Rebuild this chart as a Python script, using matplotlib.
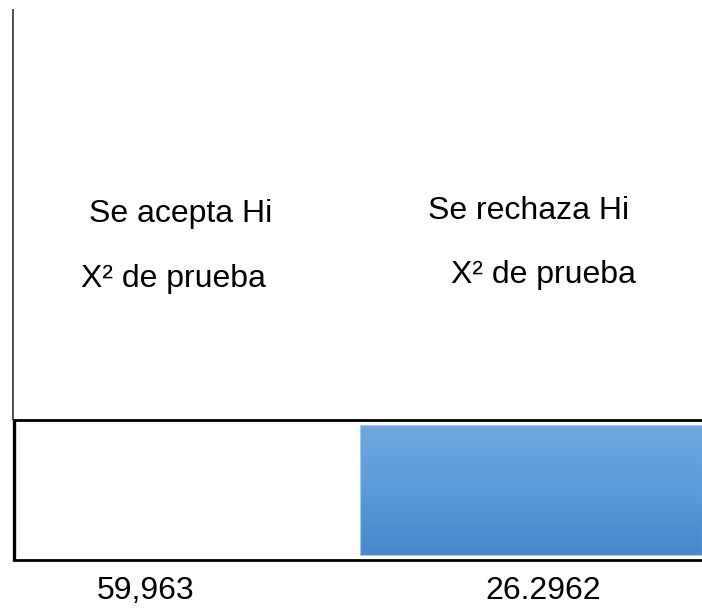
import matplotlib
matplotlib.use("Agg")
import matplotlib.pyplot as plt
import numpy as np
from matplotlib.colors import LinearSegmentedColormap

plt.rcParams["font.family"] = ["Liberation Sans", "DejaVu Sans"]

# labels / values
region_titles = ["Se acepta Hi", "Se rechaza Hi"]
stat_labels = ["X² de prueba", "X² de prueba"]
values = ["59,963", "26.2962"]

W, H = 702, 612
fig = plt.figure(figsize=(W / 100, H / 100), dpi=100)
ax = fig.add_axes([0, 0, 1, 1])
ax.set_xlim(0, W)
ax.set_ylim(H, 0)
ax.axis("off")

# left vertical axis line
ax.plot([12.5, 12.5], [9, 420], color="#333333", linewidth=1.2, solid_capstyle="butt")

# box with thick border
ax.plot([13, W], [420, 420], color="black", linewidth=2.0, solid_capstyle="butt")
ax.plot([13, W], [560, 560], color="black", linewidth=2.0, solid_capstyle="butt")
ax.plot([13.5, 13.5], [419, 561], color="black", linewidth=2.4, solid_capstyle="butt")

# blue rejection region with vertical gradient
cmap = LinearSegmentedColormap.from_list("blu", ["#70A7DD", "#5A9BDB", "#4688C9"])
grad = np.linspace(0, 1, 256).reshape(-1, 1)
ax.imshow(grad, cmap=cmap, aspect="auto", extent=(360, W, 555, 425),
          interpolation="bilinear", zorder=1)
ax.plot([360, W, W, 360, 360], [425, 425, 555, 555, 425], color="#A9C8EA",
        linewidth=0.8, zorder=2)

fs = 23
ax.text(181, 214, region_titles[0], fontsize=fs, ha="center", va="center")
ax.text(529, 211, region_titles[1], fontsize=fs, ha="center", va="center")
ax.text(173, 279, stat_labels[0], fontsize=fs, ha="center", va="center")
ax.text(543, 275, stat_labels[1], fontsize=fs, ha="center", va="center")
ax.text(146, 591, values[0], fontsize=fs, ha="center", va="center")
ax.text(543, 591, values[1], fontsize=fs, ha="center", va="center")

fig.savefig("out.png", dpi=100)
